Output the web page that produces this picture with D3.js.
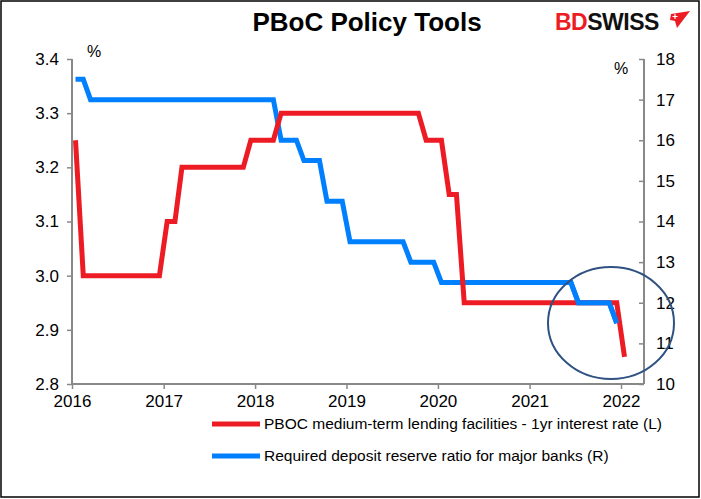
<!DOCTYPE html>
<html><head><meta charset="utf-8">
<script src="https://cdn.jsdelivr.net/npm/d3@7"></script>
<style>body{margin:0;background:#fff}text{font-family:"Liberation Sans",Arial,sans-serif}</style>
</head><body><svg id="chart"></svg>
<script>
// monthly values, Jan 2016 .. Jan 2022
const startMonth = new Date(2016, 0, 15);
const mlfRate = [3.25,3.0,3.0,3.0,3.0,3.0,3.0,3.0,3.0,3.0,3.0,3.0,
  3.1,3.1,3.2,3.2,3.2,3.2,3.2,3.2,3.2,3.2,3.2,3.25,
  3.25,3.25,3.25,3.3,3.3,3.3,3.3,3.3,3.3,3.3,3.3,3.3,
  3.3,3.3,3.3,3.3,3.3,3.3,3.3,3.3,3.3,3.3,3.25,3.25,
  3.25,3.15,3.15,2.95,2.95,2.95,2.95,2.95,2.95,2.95,2.95,2.95,
  2.95,2.95,2.95,2.95,2.95,2.95,2.95,2.95,2.95,2.95,2.95,2.95,2.85];
const rrrMajor = [17.5,17.5,17,17,17,17,17,17,17,17,17,17,
  17,17,17,17,17,17,17,17,17,17,17,17,
  17,17,17,16,16,16,15.5,15.5,15.5,14.5,14.5,14.5,
  13.5,13.5,13.5,13.5,13.5,13.5,13.5,13.5,13,13,13,13,
  12.5,12.5,12.5,12.5,12.5,12.5,12.5,12.5,12.5,12.5,12.5,12.5,
  12.5,12.5,12.5,12.5,12.5,12.5,12,12,12,12,12,11.5];
const leftTicks = [2.8,2.9,3.0,3.1,3.2,3.3,3.4];
const rightTicks = [10,11,12,13,14,15,16,17,18];
const yearTicks = [2016,2017,2018,2019,2020,2021,2022];
const seriesNames = ["PBOC medium-term lending facilities - 1yr interest rate (L)",
  "Required deposit reserve ratio for major banks (R)"];

const W = 701, H = 499;
const svg = d3.select("#chart").attr("width", W).attr("height", H);
svg.append("rect").attr("x",1).attr("y",1).attr("width",W-3).attr("height",H-3)
  .attr("fill","#fff").attr("stroke","#000").attr("stroke-width",1.5);

const dateOf = i => d3.timeMonth.offset(startMonth, i);
const x = d3.scaleTime().domain([new Date(2016,0,1), new Date(2022,0,1)]).range([72, 621]);
const yL = d3.scaleLinear().domain([2.8, 3.4]).range([384, 59]);
const yR = d3.scaleLinear().domain([10, 18]).range([384, 59]);
const gray = "#888";

// axes
const gx = svg.append("g").attr("transform","translate(0,384)")
  .call(d3.axisBottom(x).tickValues(yearTicks.map(y => new Date(y,0,1))).tickFormat(d3.timeFormat("%Y")).tickSize(5).tickPadding(6));
gx.select(".domain").attr("d","M72,0H644");
const gl = svg.append("g").attr("transform","translate(72,0)")
  .call(d3.axisLeft(yL).tickValues(leftTicks).tickFormat(d3.format(".1f")).tickSize(5).tickPadding(8));
const gr = svg.append("g").attr("transform","translate(644,0)")
  .call(d3.axisRight(yR).tickValues(rightTicks).tickSize(-5).tickPadding(12));
[gx, gl, gr].forEach(g => {
  g.select(".domain").attr("stroke", gray).attr("stroke-width",2);
  g.selectAll(".tick line").attr("stroke", gray).attr("stroke-width",1.5);
  g.selectAll("text").attr("font-size",17).attr("fill","#000");
});
gr.select(".domain").attr("d","M0,59V384");
gl.select(".domain").attr("d","M0,59V384");

svg.append("text").attr("x",87).attr("y",57).attr("font-size",16).text("%");
svg.append("text").attr("x",614).attr("y",74).attr("font-size",16).text("%");

// series
const line = (yS) => d3.line().x((d,i) => x(dateOf(i))).y(d => yS(d));
svg.append("path").datum(rrrMajor).attr("d", line(yR)).attr("fill","none")
  .attr("stroke","#0080FF").attr("stroke-width",5);
svg.append("path").datum(mlfRate).attr("d", line(yL)).attr("fill","none")
  .attr("stroke","#ED1C24").attr("stroke-width",5);
svg.append("path").datum(rrrMajor.slice(60)).attr("d", d3.line().x((d,i) => x(dateOf(i+60))).y(d => yR(d)))
  .attr("fill","none").attr("stroke","#0080FF").attr("stroke-width",5);

// highlight circle
svg.append("ellipse").attr("cx",611).attr("cy",323).attr("rx",63).attr("ry",56)
  .attr("fill","none").attr("stroke","#2F5282").attr("stroke-width",2);

// title & logo
svg.append("text").attr("x",367).attr("y",31).attr("text-anchor","middle")
  .attr("font-size",26).attr("font-weight","bold").text("PBoC Policy Tools");
const logo = svg.append("text").attr("x",555).attr("y",30).attr("font-size",23)
  .attr("font-weight","bold").attr("letter-spacing",-0.5);
logo.append("tspan").attr("fill","#ED1C24").text("BD");
logo.append("tspan").attr("fill","#111").text("SWISS");
svg.append("path").attr("d","M671,14L690,11L677,28L675,21L670,20Z").attr("fill","#ED1C24");
svg.append("path").attr("d","M675,14v5M672.5,16.5h5").attr("stroke","#fff").attr("stroke-width",1.2);

// legend
const legColors = ["#ED1C24","#0080FF"];
seriesNames.forEach((n,i) => {
  const yy = 424 + i*32;
  svg.append("line").attr("x1",212).attr("x2",260).attr("y1",yy).attr("y2",yy)
    .attr("stroke",legColors[i]).attr("stroke-width",5);
  svg.append("text").attr("x",264).attr("y",yy+5).attr("font-size",15.5).text(n);
});
</script></body></html>
